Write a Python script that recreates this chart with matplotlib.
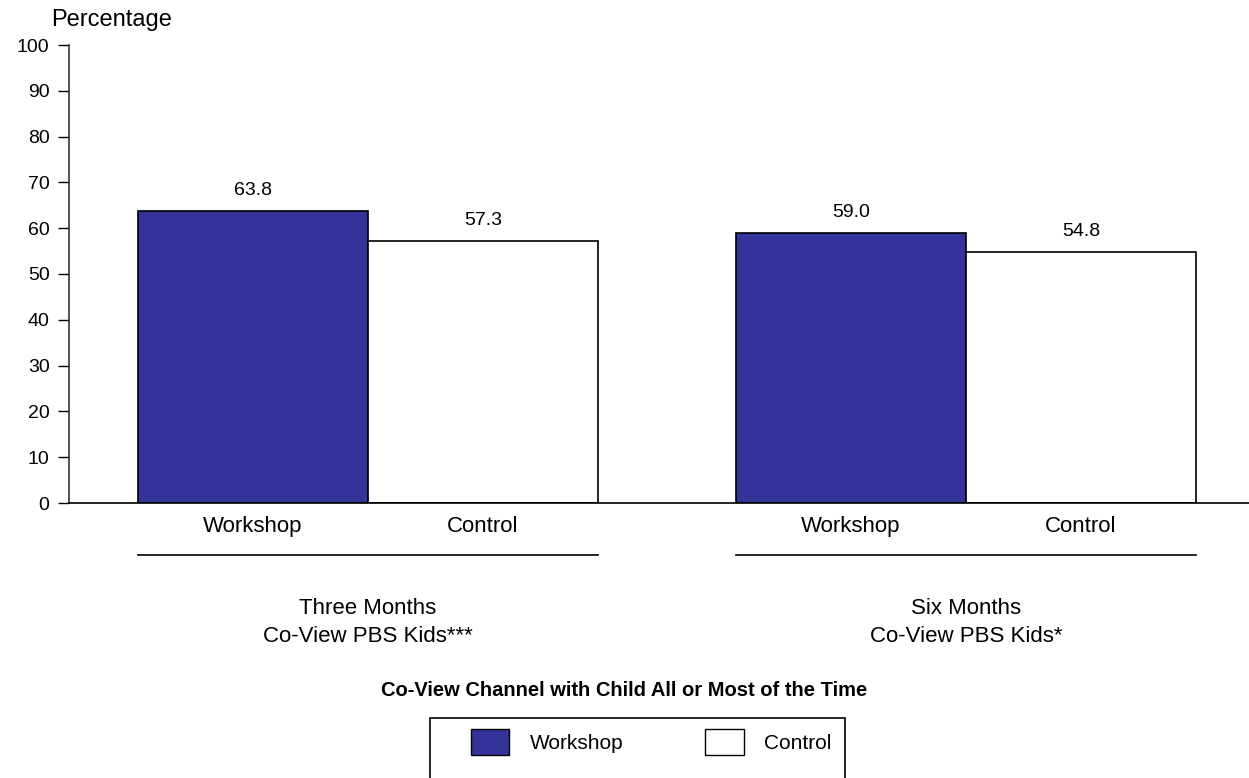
import numpy as np
import matplotlib
matplotlib.use("Agg")
import matplotlib.pyplot as plt
from matplotlib.patches import Patch, Rectangle

plt.rcParams['font.family'] = ['Liberation Sans', 'DejaVu Sans']

# data
periods = ["Three Months\nCo-View PBS Kids***", "Six Months\nCo-View PBS Kids*"]
series = ["Workshop", "Control"]
workshop = [63.8, 59.0]
control = [57.3, 54.8]
yticks = list(range(0, 101, 10))

W, H = 1249, 778
fig = plt.figure(figsize=(W / 100, H / 100), dpi=100)
ax = fig.add_axes([69 / W, (H - 503) / H, 1 - 69 / W, (503 - 45) / H])

navy = "#333399"
width = 1.0
centers = np.array([0.0, 2.6])

b1 = ax.bar(centers - width / 2, workshop, width, color=navy, edgecolor="black", linewidth=1.2)
b2 = ax.bar(centers + width / 2, control, width, color="white", edgecolor="black", linewidth=1.2)

for bars in (b1, b2):
    for r in bars:
        v = r.get_height()
        ax.text(r.get_x() + r.get_width() / 2, v + 2.6, f"{v:.1f}",
                ha="center", va="bottom", fontsize=14)

ax.set_xlim(-1.3, 3.83)
ax.set_ylim(0, 100)
ax.set_yticks(yticks)
ax.tick_params(axis="y", labelsize=14, length=8, width=1, direction="out", pad=6)
ax.tick_params(axis="x", length=0)
ax.set_xticks([])
for s in ("top", "right"):
    ax.spines[s].set_visible(False)
ax.spines["left"].set_linewidth(1.2)
ax.spines["bottom"].set_linewidth(1.2)
ax.spines["left"].set_color("#333333")

# category labels and group lines below axis
for i, c in enumerate(centers):
    ax.text(c - width / 2, -2.8, series[0], ha="center", va="top", fontsize=16, clip_on=False)
    ax.text(c + width / 2, -2.8, series[1], ha="center", va="top", fontsize=16, clip_on=False)
    ax.plot([c - width, c + width], [-11.4, -11.4], color="black", lw=1.2, clip_on=False)
    ax.text(c, -20.8, periods[i], ha="center", va="top", fontsize=16,
            linespacing=1.4, clip_on=False)

fig.text(51 / W, 1 - 20 / H, "Percentage", ha="left", va="center", fontsize=17)
fig.text(0.5, 1 - 690 / H, "Co-View Channel with Child All or Most of the Time",
         ha="center", va="center", fontsize=14.5, fontweight="bold")

# legend box (bottom edge runs off the figure)
fig.patches.append(Rectangle((430 / W, -0.05), (845 - 430) / W, (H - 718) / H + 0.05,
                             transform=fig.transFigure, fill=False, edgecolor="black", lw=1.2))
handles = [Patch(facecolor=navy, edgecolor="black"), Patch(facecolor="white", edgecolor="black")]
fig.legend(handles, series, loc="center left", bbox_to_anchor=(452 / W, 1 - 742 / H), ncol=2,
           frameon=False, fontsize=15, handlelength=1.85, handleheight=1.6,
           handletextpad=1.0, columnspacing=3.9)

fig.savefig("out.png", dpi=100)
